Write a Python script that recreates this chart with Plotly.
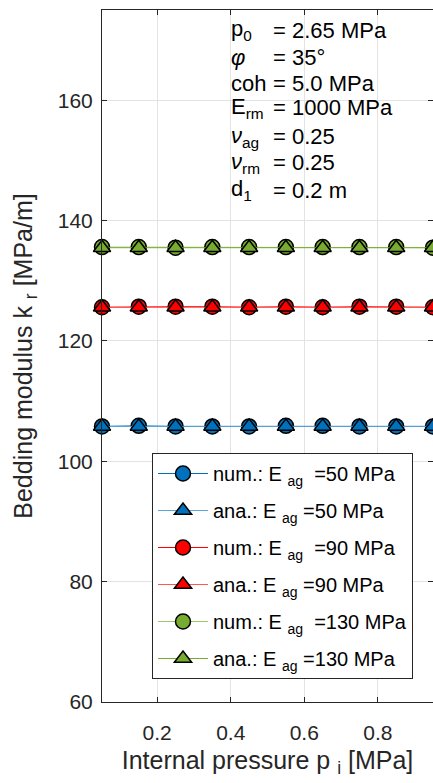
import plotly.graph_objects as go

p_i = [0.05, 0.15, 0.25, 0.35, 0.45, 0.55, 0.65, 0.75, 0.85, 0.95]
num_50 = [105.8, 105.9, 105.8, 105.8, 105.8, 105.9, 105.9, 105.8, 105.8, 105.8]
ana_50 = [105.8, 105.8, 105.8, 105.8, 105.8, 105.8, 105.8, 105.8, 105.8, 105.8]
num_90 = [125.6, 125.7, 125.7, 125.7, 125.6, 125.7, 125.6, 125.7, 125.7, 125.6]
ana_90 = [125.6, 125.6, 125.6, 125.6, 125.6, 125.6, 125.6, 125.6, 125.6, 125.6]
num_130 = [135.6, 135.6, 135.5, 135.6, 135.6, 135.6, 135.6, 135.6, 135.6, 135.5]
ana_130 = [135.5, 135.5, 135.5, 135.5, 135.5, 135.5, 135.5, 135.5, 135.5, 135.5]

series = [
    ("num.: E <sub>ag</sub>  =50 MPa", num_50, "circle", "#0072BD", "#0072BD"),
    ("ana.: E <sub>ag</sub> =50 MPa", ana_50, "triangle-up", "#0072BD", "#5BA3D9"),
    ("num.: E <sub>ag</sub>  =90 MPa", num_90, "circle", "#FF0000", "#FF0000"),
    ("ana.: E <sub>ag</sub> =90 MPa", ana_90, "triangle-up", "#FF0000", "#FF5555"),
    ("num.: E <sub>ag</sub>  =130 MPa", num_130, "circle", "#77AC30", "#9CC96B"),
    ("ana.: E <sub>ag</sub> =130 MPa", ana_130, "triangle-up", "#77AC30", "#77AC30"),
]

labels = ["p<sub>0</sub>", "<i>\u03c6</i>", "coh", "E<sub>rm</sub>", "<i>\u03bd</i><sub>ag</sub>", "<i>\u03bd</i><sub>rm</sub>", "d<sub>1</sub>"]
values = ["= 2.65 MPa", "= 35\u00b0", "= 5.0 MPa", "= 1000 MPa", "= 0.25", "= 0.25", "= 0.2 m"]

fig = go.Figure()
for i, (name, y, sym, mcol, lcol) in enumerate(series):
    fig.add_trace(go.Scatter(
        x=p_i, y=y, name=name, mode="lines+markers", legendgroup=f"g{i}",
        line=dict(color=lcol, width=1),
        marker=dict(symbol=sym, size=15, color=mcol, line=dict(color="black", width=1.5)),
        cliponaxis=False,
    ))

W, H = 433, 783
L, R, T, B = 102, 0, 10, 81
pw, ph = W - L - R, H - T - B
line_px = [30, 57, 83, 108, 137, 163, 190]
for lab, val, py in zip(labels, values, line_px):
    yp = (H - B - py) / ph
    fig.add_annotation(x=(229 - L) / pw, y=yp, xref="paper", yref="paper", text=lab,
                       showarrow=False, xanchor="left", yanchor="middle",
                       font=dict(size=22, color="#000000"))
    fig.add_annotation(x=(271 - L) / pw, y=yp, xref="paper", yref="paper", text=val,
                       showarrow=False, xanchor="left", yanchor="middle",
                       font=dict(size=22, color="#000000"))

axis_common = dict(
    showline=True, linecolor="#262626", linewidth=1, mirror="ticks",
    ticks="inside", ticklen=5, tickcolor="#262626",
    showgrid=True, gridcolor="#E3E3E3", gridwidth=1, zeroline=False,
    tickfont=dict(size=21, color="#262626"),
)
fig.update_xaxes(range=[0.05, 0.95], tick0=0.2, dtick=0.2, tickformat=".1f", ticklabelstandoff=12,
                 title=dict(text="Internal pressure p <sub>i</sub> [MPa]", font=dict(size=25, color="#262626"), standoff=8),
                 **axis_common)
fig.update_yaxes(range=[60, 175], tick0=60, dtick=20, ticklabelstandoff=4,
                 title=dict(text="Bedding modulus k <sub>r</sub> [MPa/m]", font=dict(size=25, color="#262626"), standoff=18),
                 **axis_common)

fig.update_layout(
    width=W, height=H,
    margin=dict(l=L, r=R, t=T, b=B, pad=0),
    plot_bgcolor="white", paper_bgcolor="white",
    font=dict(family="Liberation Sans, Arial, sans-serif", color="#262626"),
    legend=dict(x=(152 - L) / pw, y=(H - B - 453) / ph, xanchor="left", yanchor="top",
                bgcolor="white", bordercolor="#262626", borderwidth=1,
                font=dict(size=20, color="#000000"), itemwidth=50,
                traceorder="grouped", tracegroupgap=8),
    showlegend=True,
)

fig.write_html("out.html")
